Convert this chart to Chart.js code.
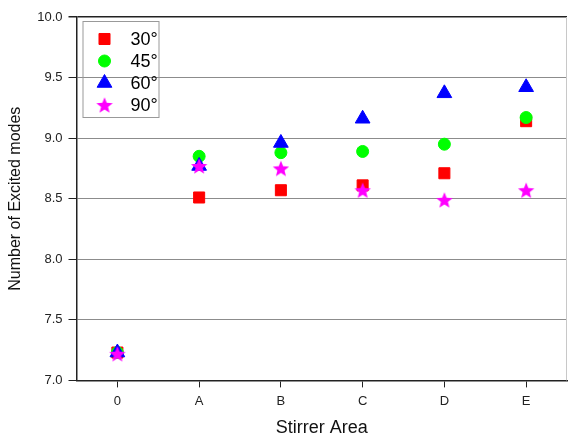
<!DOCTYPE html>
<html>
<head>
<meta charset="utf-8">
<script src="https://cdn.jsdelivr.net/npm/chart.js@4/dist/chart.umd.min.js"></script>
<style>
html,body{margin:0;padding:0;background:#fff}
</style>
</head>
<body>
<canvas id="modesChart" width="568" height="437"></canvas>
<script>
// values
const areas=['0','A','B','C','D','E'];
const deg30=[7.23,8.51,8.57,8.61,8.71,9.14];
const deg45=[7.23,8.85,8.88,8.89,8.95,9.17];
const deg60=[7.23,8.77,8.96,9.16,9.37,9.42];
const deg90=[7.22,8.77,8.75,8.57,8.49,8.57];
const seriesNames=['30°','45°','60°','90°'];
const yTicks=[7.0,7.5,8.0,8.5,9.0,9.5,10.0];

const FONT='"Liberation Sans", Arial, sans-serif';

// filled 5 point star, chart.js 'star' is only an asterisk
function starImage(){
    let c=document.createElement('canvas');
    c.width=18;c.height=18;
    let g=c.getContext('2d');
    g.fillStyle='#ff00ff';
    g.beginPath();
    for(let i=0;i<10;i++){
        let r=i%2?3.7:8.6;
        let a=-Math.PI/2+i*Math.PI/5;
        g.lineTo(9+r*Math.cos(a),9.8+r*Math.sin(a));
    }
    g.closePath();
    g.fill();
    return c;
}

const boxLegend={
    id:'boxLegend',
    afterDraw(chart){
        let ctx=chart.ctx, a=chart.chartArea;
        ctx.save();
        // right edge of frame
        ctx.strokeStyle='#c8c8c8';
        ctx.lineWidth=1;
        ctx.beginPath();
        ctx.moveTo(a.right-0.5,a.top);
        ctx.lineTo(a.right-0.5,a.bottom);
        ctx.stroke();
        // legend box
        let x0=a.left+6, y0=a.top+4;
        ctx.strokeStyle='#999';
        ctx.strokeRect(x0+0.5,y0+0.5,76,96);
        chart.data.datasets.forEach(function(ds,i){
            let cy=y0+18+i*22;
            ctx.fillStyle=ds.backgroundColor;
            ctx.strokeStyle=ds.borderColor;
            Chart.helpers.drawPoint(ctx,{pointStyle:ds.pointStyle,radius:ds.pointRadius,borderWidth:1,rotation:0},x0+22,cy);
            ctx.fillStyle='#000';
            ctx.font='18px '+FONT;
            ctx.textBaseline='middle';
            ctx.textAlign='left';
            ctx.fillText(ds.label,x0+48,cy+1);
        });
        ctx.restore();
    }
};

function series(label,data,color,style,radius,order){
    return {label:label,data:data,showLine:false,
        backgroundColor:color,borderColor:color,borderWidth:1,
        pointStyle:style,pointRadius:radius,pointHoverRadius:radius,order:order};
}

new Chart('modesChart',{
    type:'line',
    data:{
        labels:areas,
        datasets:[
            series(seriesNames[0],deg30,'#ff0000','rect',7.8,3),
            series(seriesNames[1],deg45,'#00ff00','circle',6,2),
            series(seriesNames[2],deg60,'#0000ff','triangle',8.5,1),
            series(seriesNames[3],deg90,'#ff00ff',starImage(),9,0)
        ]
    },
    options:{
        responsive:false,
        animation:false,
        layout:{autoPadding:false,padding:{left:4,top:17,right:1,bottom:0}},
        plugins:{legend:{display:false},tooltip:{enabled:false}},
        scales:{
            x:{
                type:'category',
                offset:true,
                grid:{drawOnChartArea:false,tickLength:7,tickColor:'#222'},
                border:{color:'#222',width:1.5},
                ticks:{color:'#222',font:{family:FONT,size:13},padding:6},
                title:{display:true,text:'Stirrer Area',color:'#111',font:{family:FONT,size:18,lineHeight:1},padding:{top:4,bottom:0}}
            },
            y:{
                min:7,max:10,
                afterBuildTicks:function(s){s.ticks=yTicks.map(v=>({value:v}));},
                ticks:{color:'#222',font:{family:FONT,size:13},padding:6,callback:v=>Number(v).toFixed(1)},
                grid:{
                    color:c=>c.tick.value===10?'#222':(c.tick.value===7?'rgba(0,0,0,0)':'#8c8c8c'),
                    lineWidth:c=>c.tick.value===10?1.5:1,
                    tickColor:'#222',tickLength:8
                },
                border:{color:'#222',width:1.5},
                title:{display:true,text:'Number of Excited modes',color:'#111',font:{family:FONT,size:16},padding:{top:2,bottom:6}}
            }
        }
    },
    plugins:[boxLegend]
});
</script>
</body>
</html>
